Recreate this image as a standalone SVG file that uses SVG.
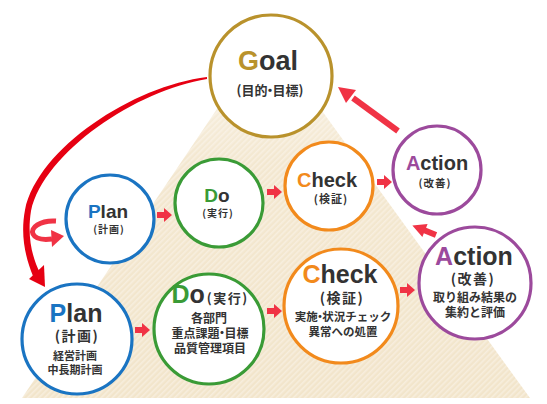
<svg xmlns="http://www.w3.org/2000/svg" width="547" height="404" viewBox="0 0 547 404">
<defs>
<pattern id="stripes" width="4" height="4" patternUnits="userSpaceOnUse" patternTransform="rotate(45)">
<rect width="4" height="4" fill="#f2e5cb"/>
<rect width="1.6" height="4" fill="#f7eedd"/>
</pattern>
<linearGradient id="fade" x1="0" y1="0" x2="0" y2="1">
<stop offset="0" stop-color="#fff" stop-opacity="0.6"/>
<stop offset="0.35" stop-color="#fff" stop-opacity="0.1"/>
<stop offset="1" stop-color="#fff" stop-opacity="0"/>
</linearGradient>
<path id="blk" d="M0 -3 L7 -3 L7 -7 L15 0 L7 7 L7 3 L0 3 Z"/>
</defs>
<style>
.c{fill:#fff;stroke-width:3.2}
.t{font-family:"Liberation Sans","Noto Sans CJK JP",sans-serif;font-weight:bold;fill:#333;text-anchor:middle}
.j{font-family:"Noto Sans CJK JP","Liberation Sans",sans-serif;font-weight:bold;fill:#333;text-anchor:middle}
.arr{fill:#f03345}
</style>
<rect width="547" height="404" fill="#fff"/>
<polygon points="267,35 22,398 530,398" fill="url(#stripes)"/>
<polygon points="267,35 22,398 530,398" fill="url(#fade)"/>

<g id="connectors">
<path d="M207 77 C133 86 38 148 25 210 C20 236 26 259 33 276 L40 273 C32 257 27 236 31 211 C44 152 137 90 207 79 Z" fill="#e60012"/>
<polygon points="29,279 44,265 45,287" fill="#e60012"/>
<path d="M56 221 C40 220 30 228 33 234 C36 240 44 240 52 239" fill="none" stroke="#f03345" stroke-width="5" stroke-linecap="butt"/>
<polygon points="51,230 64,236 52,247" class="arr"/>
<line x1="398" y1="131" x2="353" y2="98" stroke="#f03345" stroke-width="6"/>
<polygon points="338,87 356,90 346,103" class="arr"/>
<use href="#blk" class="arr" transform="translate(157,215)"/>
<use href="#blk" class="arr" transform="translate(267,192)"/>
<use href="#blk" class="arr" transform="translate(377,182)"/>
<use href="#blk" class="arr" transform="translate(436,235) rotate(-158) scale(1.7,1)"/>
<use href="#blk" class="arr" transform="translate(135,330)"/>
<use href="#blk" class="arr" transform="translate(267,311)"/>
<use href="#blk" class="arr" transform="translate(400,290)"/>
</g>

<g id="goal">
<circle cx="271" cy="76" r="61" class="c" stroke="#b9922c"/>
<text x="268" y="70" class="t" font-size="27"><tspan fill="#b9922c">G</tspan>oal</text>
<text x="270" y="95" class="j" font-size="13">(目<tspan letter-spacing="-4">的・</tspan>目標)</text>
</g>

<g id="plan-small">
<circle cx="110" cy="219" r="44" class="c" stroke="#1a74c2"/>
<text x="108" y="218" class="t" font-size="19"><tspan fill="#1a74c2">P</tspan>lan</text>
<text x="109" y="233" class="j" font-size="10" letter-spacing="1">(計画)</text>
</g>

<g id="do-small">
<circle cx="219" cy="203" r="44" class="c" stroke="#3a9b36"/>
<text x="217" y="202" class="t" font-size="19"><tspan fill="#3a9b36">D</tspan>o</text>
<text x="218" y="217" class="j" font-size="10" letter-spacing="1">(実行)</text>
</g>

<g id="check-small">
<circle cx="329" cy="186" r="44" class="c" stroke="#f28a1c"/>
<text x="327" y="187" class="t" font-size="20"><tspan fill="#f28a1c">C</tspan>heck</text>
<text x="331" y="203" class="j" font-size="11" letter-spacing="1">(検証)</text>
</g>

<g id="action-small">
<circle cx="437" cy="170" r="44" class="c" stroke="#9c4a9c"/>
<text x="437" y="170" class="t" font-size="20"><tspan fill="#9c4a9c">A</tspan>ction</text>
<text x="435" y="187" class="j" font-size="10.5" letter-spacing="1">(改善)</text>
</g>

<g id="plan-big">
<circle cx="77" cy="339" r="55" class="c" stroke="#1a74c2"/>
<text x="76" y="322" class="t" font-size="25"><tspan fill="#1a74c2">P</tspan>lan</text>
<text x="77" y="341" class="j" font-size="14" letter-spacing="1.5">(計画)</text>
<text x="75" y="360" class="j" font-size="11">経営計画</text>
<text x="75" y="374" class="j" font-size="11">中長期計画</text>
</g>

<g id="do-big">
<circle cx="209" cy="329" r="55" class="c" stroke="#3a9b36"/>
<text x="210" y="303" class="t" font-size="25"><tspan fill="#3a9b36">D</tspan>o<tspan class="j" font-size="13" letter-spacing="1.5" dx="2">(実行)</tspan></text>
<text x="209" y="323" class="j" font-size="12">各部門</text>
<text x="210" y="338" class="j" font-size="12">重点課<tspan letter-spacing="-3.5">題・</tspan>目標</text>
<text x="210" y="353" class="j" font-size="12">品質管理項目</text>
</g>

<g id="check-big">
<circle cx="341" cy="306" r="57" class="c" stroke="#f28a1c"/>
<text x="340" y="283" class="t" font-size="25"><tspan fill="#f28a1c">C</tspan>heck</text>
<text x="342" y="303" class="j" font-size="14" letter-spacing="1.5">(検証)</text>
<text x="343" y="321" class="j" font-size="11.5">実<tspan letter-spacing="-3.5">施・</tspan>状況チェック</text>
<text x="343" y="336" class="j" font-size="11.5">異常への処置</text>
</g>

<g id="action-big">
<circle cx="475" cy="283" r="56" class="c" stroke="#9c4a9c"/>
<text x="474" y="265" class="t" font-size="25"><tspan fill="#9c4a9c">A</tspan>ction</text>
<text x="473" y="284" class="j" font-size="14" letter-spacing="1.5">(改善)</text>
<text x="475" y="302" class="j" font-size="12">取り組み結果の</text>
<text x="475" y="317" class="j" font-size="12">集約と評価</text>
</g>
</svg>
